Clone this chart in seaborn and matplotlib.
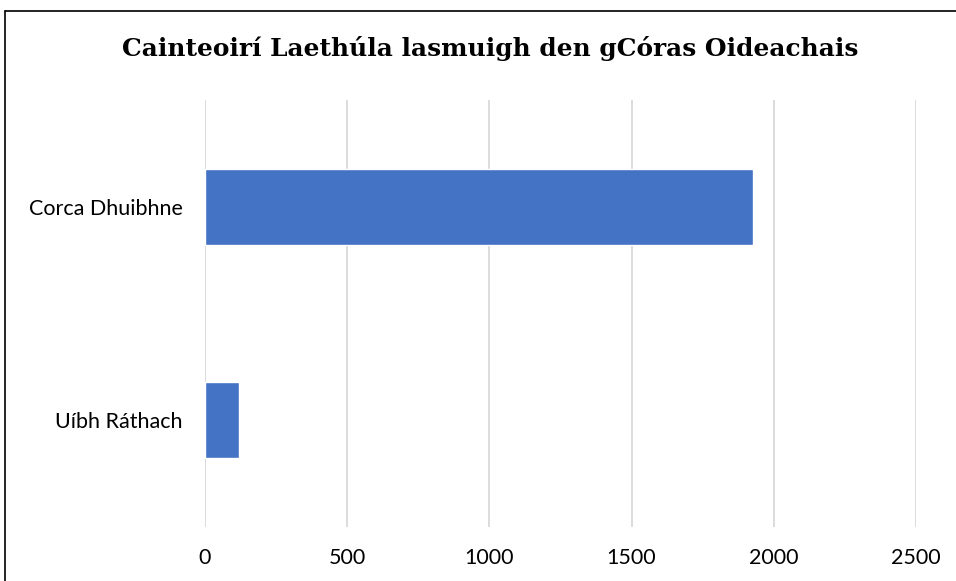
import pandas as pd
import seaborn as sns
import matplotlib.pyplot as plt
from matplotlib.lines import Line2D

areas = ["Corca Dhuibhne", "Uíbh Ráthach"]
speakers = [1926, 121]
xticks = [0, 500, 1000, 1500, 2000, 2500]

df = pd.DataFrame({"area": areas, "speakers": speakers})

sns.set_style("white")
plt.rcParams["font.family"] = ["Lato", "DejaVu Sans"]
plt.rcParams["text.color"] = "black"
plt.rcParams["xtick.color"] = "black"
plt.rcParams["ytick.color"] = "black"

fig = plt.figure(figsize=(9.56, 5.81), dpi=100)
ax = fig.add_axes([205 / 956, 1 - 527 / 581, 711 / 956, 427 / 581])

sns.barplot(data=df, x="speakers", y="area", color="#4472C4", saturation=1,
            width=0.357, ax=ax, orient="h")

ax.set_xlim(0, 2500)
ax.set_ylim(1.5, -0.5)
ax.set_xticks(xticks)
ax.set_xticklabels([str(t) for t in xticks], fontsize=15.5)
ax.tick_params(axis="y", labelsize=15.5, length=0, pad=16)
ax.tick_params(axis="x", length=0, pad=15)
ax.xaxis.grid(True, color="#D9D9D9", linewidth=1.3)
ax.set_axisbelow(True)
for s in ax.spines.values():
    s.set_visible(False)
ax.set(xlabel="", ylabel="")

fig.text(490 / 956, 1 - 56 / 581, "Cainteoirí Laethúla lasmuigh den gCóras Oideachais",
         ha="center", va="baseline", fontsize=17.9, fontweight="bold",
         color="black", family=["DejaVu Serif"])

# outer border (left and top)
fig.add_artist(Line2D([5 / 956, 5 / 956], [0, 1 - 11 / 581], color="black", lw=1.2,
                      transform=fig.transFigure))
fig.add_artist(Line2D([5 / 956, 1], [1 - 11 / 581, 1 - 11 / 581], color="black", lw=1.2,
                      transform=fig.transFigure))

fig.savefig("out.png", dpi=100)
